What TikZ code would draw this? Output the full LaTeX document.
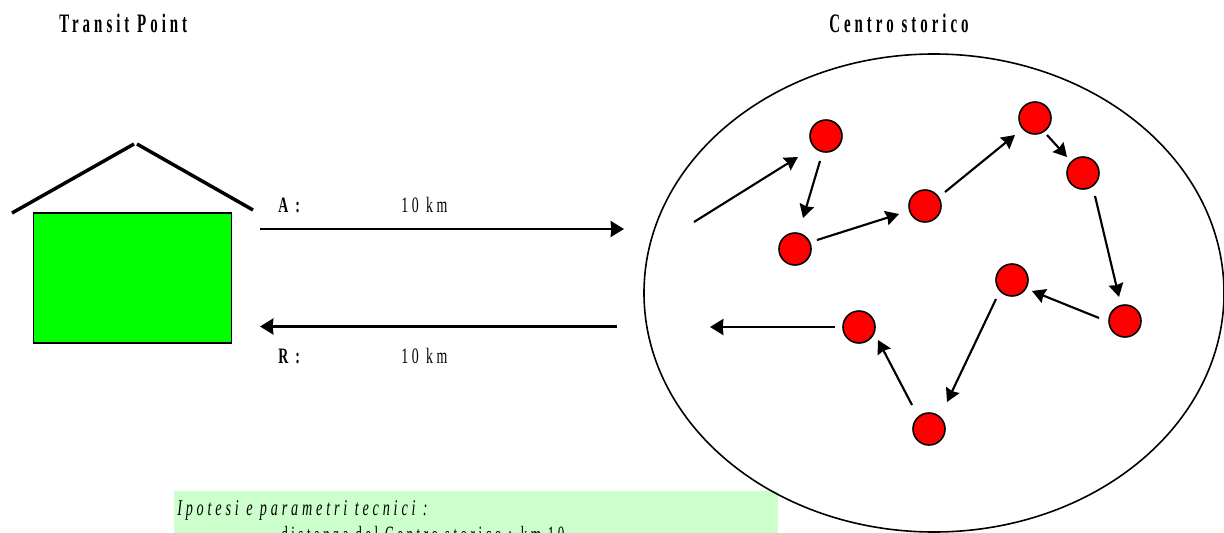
\documentclass[tikz,border=0pt]{standalone}
\usepackage{fontspec}
\setmainfont{Liberation Serif}
\newfontfamily\spaced[LetterSpace=15,FakeStretch=0.56]{Liberation Serif}
\newfontfamily\wider[LetterSpace=17,FakeStretch=0.63]{Liberation Serif}
\usetikzlibrary{arrows.meta,shapes.geometric}
\definecolor{boxgreen}{RGB}{204,255,204}
\tikzset{
  x=0.75pt,y=-0.75pt,
  stop/.style={circle,draw=black,fill=red,line width=1.2pt,minimum size=32*0.75pt,inner sep=0pt},
  link/.style={line width=1.6pt,-{Stealth[length=10pt,width=11pt,inset=1pt]}},
  long/.style={line width=1.9pt,-{Stealth[length=10pt,width=12pt,inset=0.5pt]}},
  roof/.style={line width=2.6pt},
  lbl/.style={inner sep=0pt,anchor=base west,font=\wider\fontsize{16.5}{18}\selectfont},
  lblb/.style={inner sep=0pt,anchor=base west,font=\wider\bfseries\fontsize{16.5}{18}\selectfont},
  lbli/.style={inner sep=0pt,anchor=base west,font=\wider\itshape\fontsize{16.9}{20}\selectfont},
  lblc/.style={inner sep=0pt,anchor=base west,font=\spaced\fontsize{17.5}{20}\selectfont},
  head/.style={inner sep=0pt,anchor=base west,font=\spaced\bfseries\fontsize{20}{22}\selectfont}
}
\begin{document}
\begin{tikzpicture}
\useasboundingbox (0,0) rectangle (1224,532);
\path[clip] (0,0) rectangle (1224,532);
\node[head] (tp) at (59,32) {Transit Point};
\node[head] (cs) at (829,32) {Centro storico};
\node[draw=black,line width=1pt,fill=green,minimum width=198*0.75pt,minimum height=130*0.75pt,inner sep=0pt] (house) at (132.5,278) {};
\coordinate (rl) at (12,213);
\coordinate (rt) at (134,144);
\coordinate (rt2) at (137,144);
\coordinate (rr) at (253,210);
\draw[roof] (rl) -- (rt);
\draw[roof] (rt2) -- (rr);
\node[fill=boxgreen,minimum width=604*0.75pt,minimum height=50*0.75pt,inner sep=0pt] (box) at (476,516) {};
\node[draw=black,line width=1.2pt,ellipse,minimum width=580*0.75pt,minimum height=478*0.75pt,inner sep=0pt] (town) at (934,293) {};
\node[lbli] (ip) at (177,515) {Ipotesi e parametri tecnici :};
\node[lblc] (di) at (281,542) {distanza del Centro storico : km 10};
\node[lblb] (a) at (278,212) {A :};
\node[lbl] (ak) at (401,212) {10 km};
\node[lblb] (r) at (278,363) {R :};
\node[lbl] (rk) at (401,363) {10 km};
\coordinate (a1) at (260,229);
\coordinate (a2) at (624,229);
\coordinate (r1) at (617,326.5);
\coordinate (r2) at (260,326.5);
\draw[long] (a1) -- (a2);
\draw[long] (r1) -- (r2);
\node[stop] (n1) at (826,136) {};
\node[stop] (n2) at (795,249) {};
\node[stop] (n3) at (925,206) {};
\node[stop] (n4) at (1035,118) {};
\node[stop] (n5) at (1083,173) {};
\node[stop] (n6) at (1125,321) {};
\node[stop] (n7) at (1012,280) {};
\node[stop] (n8) at (859,327) {};
\node[stop] (n9) at (929,429) {};
\coordinate (in) at (694,222);
\coordinate (out) at (710,327);
\draw[link] (in) -- ([shift={(-28,21)}]n1.center);
\draw[link] ([shift={(-6,25)}]n1.center) -- ([shift={(8,-31)}]n2.center);
\draw[link] ([shift={(22,-9)}]n2.center) -- ([shift={(-26,8)}]n3.center);
\draw[link] ([shift={(20,-14)}]n3.center) -- ([shift={(-20,17)}]n4.center);
\draw[link] ([shift={(12,17)}]n4.center) -- ([shift={(-16,-16)}]n5.center);
\draw[link] ([shift={(12,23)}]n5.center) -- ([shift={(-6,-24)}]n6.center);
\draw[link] ([shift={(-26,-3)}]n6.center) -- ([shift={(20,11)}]n7.center);
\draw[link] ([shift={(-16,19)}]n7.center) -- ([shift={(18,-27)}]n9.center);
\draw[link] ([shift={(-17,-24)}]n9.center) -- ([shift={(19,13)}]n8.center);
\draw[long] ([shift={(-24,0)}]n8.center) -- (out);
\end{tikzpicture}
\end{document}
